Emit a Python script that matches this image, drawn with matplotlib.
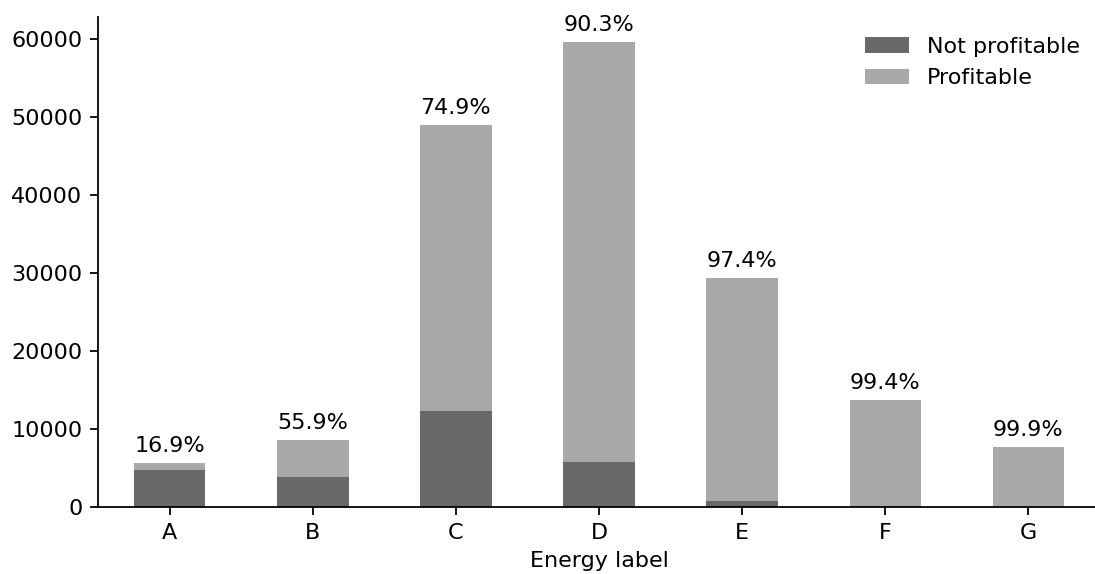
import matplotlib
matplotlib.use('Agg')
import matplotlib.pyplot as plt
import numpy as np

labels = ['A', 'B', 'C', 'D', 'E', 'F', 'G']
not_profitable = [4680, 3790, 12290, 5780, 760, 80, 8]
profitable = [950, 4800, 36680, 53830, 28600, 13640, 7690]

DPI = 160
fig = plt.figure(figsize=(1095 / DPI, 574 / DPI), dpi=DPI)
ax = fig.add_axes([98 / 1095, 67 / 574, 1002 / 1095, 490 / 574])

x = np.arange(len(labels))
ax.bar(x, not_profitable, width=0.5, color='#696969', label='Not profitable')
ax.bar(x, profitable, width=0.5, bottom=not_profitable, color='#a9a9a9', label='Profitable')

for i in range(len(labels)):
    total = not_profitable[i] + profitable[i]
    pct = 100 * profitable[i] / total
    ax.annotate(f'{pct:.1f}%', (x[i], total), xytext=(0, 3), textcoords='offset points',
                ha='center', va='bottom')

ax.set_xlim(-0.5, 6.5)
ax.set_ylim(0, 62800)
ax.set_xticks(x)
ax.set_xticklabels(labels)
ax.set_xlabel('Energy label')
ax.spines['top'].set_visible(False)
ax.spines['right'].set_visible(False)
ax.legend(loc='upper right', frameon=False)

fig.savefig('out.png', dpi=DPI)
